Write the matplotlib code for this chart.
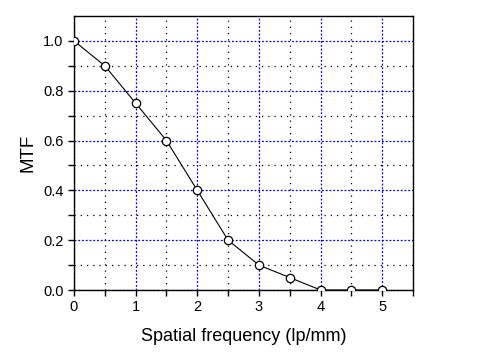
import matplotlib
matplotlib.use("Agg")
import matplotlib.pyplot as plt
import numpy as np

freq = [0, 0.5, 1.0, 1.5, 2.0, 2.5, 3.0, 3.5, 4.0, 4.5, 5.0]
mtf = [1.0, 0.9, 0.75, 0.6, 0.4, 0.2, 0.1, 0.05, 0.0, 0.0, 0.0]
xticks = [0, 1, 2, 3, 4, 5]
yticks = [0.0, 0.2, 0.4, 0.6, 0.8, 1.0]

plt.rcParams['font.family'] = ['Liberation Sans', 'DejaVu Sans']

fig = plt.figure(figsize=(4.8, 3.59), dpi=100)
ax = fig.add_axes([74/480, 1 - 290/359, (413-74)/480, (290-16)/359])

ax.plot(freq, mtf, color='black', lw=0.8, marker='o', ms=6,
        mfc='white', mec='black', mew=0.9, zorder=3, clip_on=True)

ax.set_xlim(0, 5.5)
ax.set_ylim(0, 1.1)
ax.set_xticks(xticks)
ax.set_xticklabels([str(v) for v in xticks])
ax.set_yticks(yticks)
ax.set_yticklabels([f"{v:.1f}" for v in yticks])
ax.set_xticks(np.arange(0.5, 5.6, 1.0), minor=True)
ax.set_yticks(np.arange(0.1, 1.1, 0.2), minor=True)

ax.grid(which='major', color='#0000dd', linestyle=(0, (1.5, 1.5)), lw=0.9)
ax.grid(which='minor', color='black', linestyle=(0, (1, 4)), lw=0.9)
ax.set_axisbelow(True)

ax.tick_params(which='both', direction='out', length=4, width=1, labelsize=10.5, colors='black')
for s in ax.spines.values():
    s.set_linewidth(1.0)

ax.set_xlabel('Spatial frequency (lp/mm)', fontsize=13, labelpad=10)
ax.set_ylabel('MTF', fontsize=13.5, labelpad=5)

fig.savefig('out.png', dpi=100)
